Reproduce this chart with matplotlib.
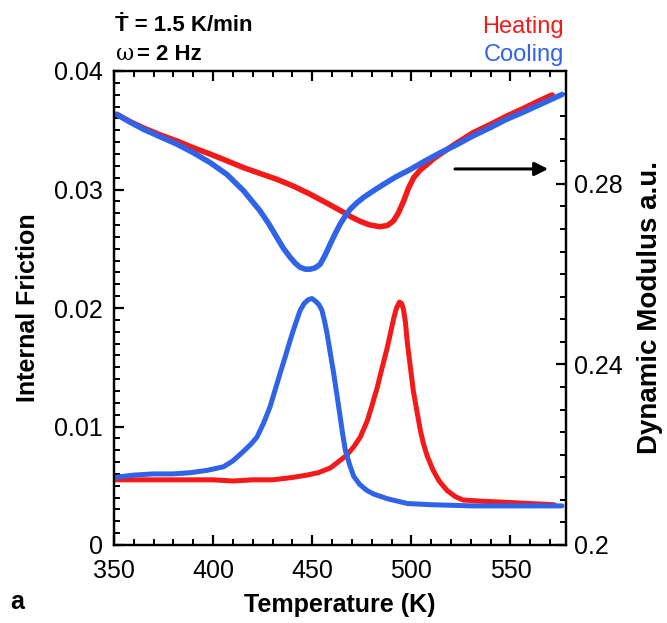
import matplotlib
matplotlib.use("Agg")
import matplotlib.pyplot as plt
from matplotlib.ticker import MultipleLocator, FixedLocator

plt.rcParams['font.family'] = ['Liberation Sans', 'DejaVu Sans']

# ---- Data ----
# Internal friction, heating
heat_if_T = [350, 360, 370, 380, 390, 400, 410, 420, 430, 440, 447.3, 453, 459.1, 463,
             467.5, 471, 474.2, 477.8, 480, 482.8, 485, 487.9, 490, 491.2, 492.5, 494,
             495, 496, 497, 498, 499.5, 501, 503, 504.5, 506, 508, 511, 514, 518, 522,
             526, 535, 548, 560, 572]
heat_if = [0.0055, 0.0055, 0.0055, 0.0055, 0.0055, 0.0055, 0.0054, 0.0055, 0.0055, 0.0057,
           0.0059, 0.0061, 0.0065, 0.0070, 0.0076, 0.0083, 0.0091, 0.0105, 0.0117, 0.0133,
           0.0148, 0.0167, 0.0183, 0.0192, 0.0200, 0.0205, 0.0204, 0.0199, 0.0188, 0.0170,
           0.0150, 0.0130, 0.0111, 0.0097, 0.0086, 0.0075, 0.0063, 0.0054, 0.0046, 0.0041,
           0.0038, 0.0037, 0.0036, 0.0035, 0.0034]
# Internal friction, cooling
cool_if_T = [350, 360, 370, 380, 388.4, 397, 405.2, 410, 415.3, 419, 422.1, 425.5, 428.8,
             431.3, 433.8, 436.4, 438.9, 441.4, 443.9, 446, 448, 449.8, 451.5, 453.3, 454.9,
             456.2, 457.4, 459.1, 460.8, 462.5, 464.1, 465.4, 466.7, 468.8, 470.9, 474,
             477.6, 481, 488, 498, 510, 531, 550, 576]
cool_if = [0.0057, 0.0059, 0.0060, 0.0060, 0.0061, 0.0063, 0.0066, 0.0071, 0.0079, 0.0085,
           0.0091, 0.0103, 0.0117, 0.0131, 0.0145, 0.0159, 0.0173, 0.0186, 0.0198, 0.0204,
           0.0207, 0.0208, 0.0206, 0.0203, 0.0198, 0.0189, 0.0179, 0.0162, 0.0145, 0.0126,
           0.0108, 0.0093, 0.0080, 0.0068, 0.0058, 0.0051, 0.0046, 0.0043, 0.0039, 0.0035,
           0.0034, 0.0033, 0.0033, 0.0033]
# Dynamic modulus, heating
heat_mod_T = [351.4, 358, 364.8, 373, 381.7, 390, 398.5, 407, 415.3, 423.7, 432.2, 440.5,
              449, 457.5, 465.8, 470, 474.2, 479, 484.3, 488, 491, 493.5, 496.1, 498.5,
              501.2, 504.5, 507.9, 511, 514.6, 522, 531, 540, 548, 556, 564, 571]
heat_mod = [0.2954, 0.2938, 0.2924, 0.2909, 0.2895, 0.2880, 0.2866, 0.2851, 0.2836, 0.2823,
            0.2810, 0.2795, 0.2777, 0.2757, 0.2737, 0.2726, 0.2717, 0.2709, 0.2705, 0.2708,
            0.2718, 0.2736, 0.2762, 0.2790, 0.2814, 0.2831, 0.2843, 0.2855, 0.2866, 0.2888,
            0.2913, 0.2932, 0.2950, 0.2966, 0.2983, 0.2997]
# Dynamic modulus, cooling
cool_mod_T = [351.4, 358, 364.8, 373, 381.7, 390, 398.5, 406.9, 415.3, 423.7, 428, 432.2,
              435.5, 438.9, 441.5, 443.9, 446.5, 449, 451.5, 454, 456.5, 459.1, 461.6, 464.1,
              466.7, 469.2, 472.5, 475.9, 481, 486, 492, 499.5, 507, 514.6, 523, 531, 540,
              548, 556, 562, 569, 576]
cool_mod = [0.2954, 0.2937, 0.2921, 0.2905, 0.2888, 0.2869, 0.2847, 0.2821, 0.2785, 0.2740,
            0.2712, 0.2681, 0.2657, 0.2637, 0.2624, 0.2615, 0.2611, 0.2611, 0.2614, 0.2622,
            0.2642, 0.2667, 0.2690, 0.2711, 0.2729, 0.2744, 0.2758, 0.2770, 0.2785, 0.2799,
            0.2815, 0.2832, 0.2851, 0.2869, 0.2887, 0.2906, 0.2925, 0.2943, 0.2958, 0.2970,
            0.2984, 0.2998]

x_ticks = [350, 400, 450, 500, 550]
left_ticks = [0, 0.01, 0.02, 0.03, 0.04]
left_labels = ['0', '0.01', '0.02', '0.03', '0.04']
right_ticks = [0.2, 0.24, 0.28]
right_labels = ['0.2', '0.24', '0.28']

RED = '#f41a1a'
BLUE = '#2f63e8'

W, H = 667, 623
fig = plt.figure(figsize=(W / 100, H / 100), dpi=100)
L, R, B, T = 114, 566, 545, 71
ax = fig.add_axes([L / W, 1 - B / H, (R - L) / W, (B - T) / H])
ax2 = ax.twinx()

# internal friction (dense dots -> thick band)
ax.plot(heat_if_T, heat_if, color=RED, lw=3.6, solid_capstyle='round',
        solid_joinstyle='round', zorder=3)
ax.plot(cool_if_T, cool_if, color=BLUE, lw=3.6, solid_capstyle='round',
        solid_joinstyle='round', zorder=4)

# modulus
ax2.plot(heat_mod_T, heat_mod, color=RED, lw=4.0, solid_capstyle='round',
         solid_joinstyle='round')
ax2.plot(cool_mod_T, cool_mod, color=BLUE, lw=4.0, solid_capstyle='round',
         solid_joinstyle='round')

ax.set_xlim(350, 578)
ax.set_ylim(0, 0.04)
ax2.set_ylim(0.2, 0.305)

ax.xaxis.set_major_locator(FixedLocator(x_ticks))
ax.xaxis.set_minor_locator(MultipleLocator(10))
ax.set_yticks(left_ticks)
ax.set_yticklabels(left_labels)
ax.yaxis.set_minor_locator(MultipleLocator(0.001))
ax2.set_yticks(right_ticks)
ax2.set_yticklabels(right_labels)
ax2.yaxis.set_minor_locator(MultipleLocator(0.005))

for a in (ax, ax2):
    for s in a.spines.values():
        s.set_linewidth(1.6)
ax.tick_params(axis='x', which='both', direction='in', top=True, bottom=True,
               labelsize=18, pad=10)
ax.tick_params(axis='y', which='both', direction='in', left=True, right=False,
               labelsize=18, pad=8)
ax.tick_params(which='major', length=7, width=1.6)
ax.tick_params(which='minor', length=4.5, width=1.4)
ax2.tick_params(axis='y', which='both', direction='in', labelsize=18, pad=6)
ax2.tick_params(which='major', length=7, width=1.6)
ax2.tick_params(which='minor', length=4.5, width=1.4)

ax.set_xlabel('Temperature (K)', fontsize=18, fontweight='bold', labelpad=7)
ax.set_ylabel('Internal Friction', fontsize=18, fontweight='bold', labelpad=10)
ax2.set_ylabel('Dynamic Modulus a.u.', fontsize=20, fontweight='bold', labelpad=10)

# arrow pointing to right axis
ax2.annotate('', xy=(569, 0.2833), xytext=(522, 0.2833),
             arrowprops=dict(arrowstyle='-|>', lw=2.2, color='black',
                             mutation_scale=20, shrinkA=0, shrinkB=0))

# annotations
fig.text(115 / W, 1 - 31 / H, '\u1E6A = 1.5 K/min', fontsize=16, fontweight='bold',
         ha='left', va='baseline')
fig.text(116 / W, 1 - 60 / H, '\u03c9', fontsize=16, family=['DejaVu Serif'],
         ha='left', va='baseline')
fig.text(137 / W, 1 - 60 / H, '= 2 Hz', fontsize=16, fontweight='bold',
         ha='left', va='baseline')
fig.text(564 / W, 1 - 33 / H, 'Heating', fontsize=17, color=RED, ha='right', va='baseline')
fig.text(564 / W, 1 - 61 / H, 'Cooling', fontsize=17, color=BLUE, ha='right', va='baseline')
fig.text(10 / W, 1 - 609 / H, 'a', fontsize=18, fontweight='bold', ha='left', va='baseline')

fig.savefig('out.png', dpi=100)
